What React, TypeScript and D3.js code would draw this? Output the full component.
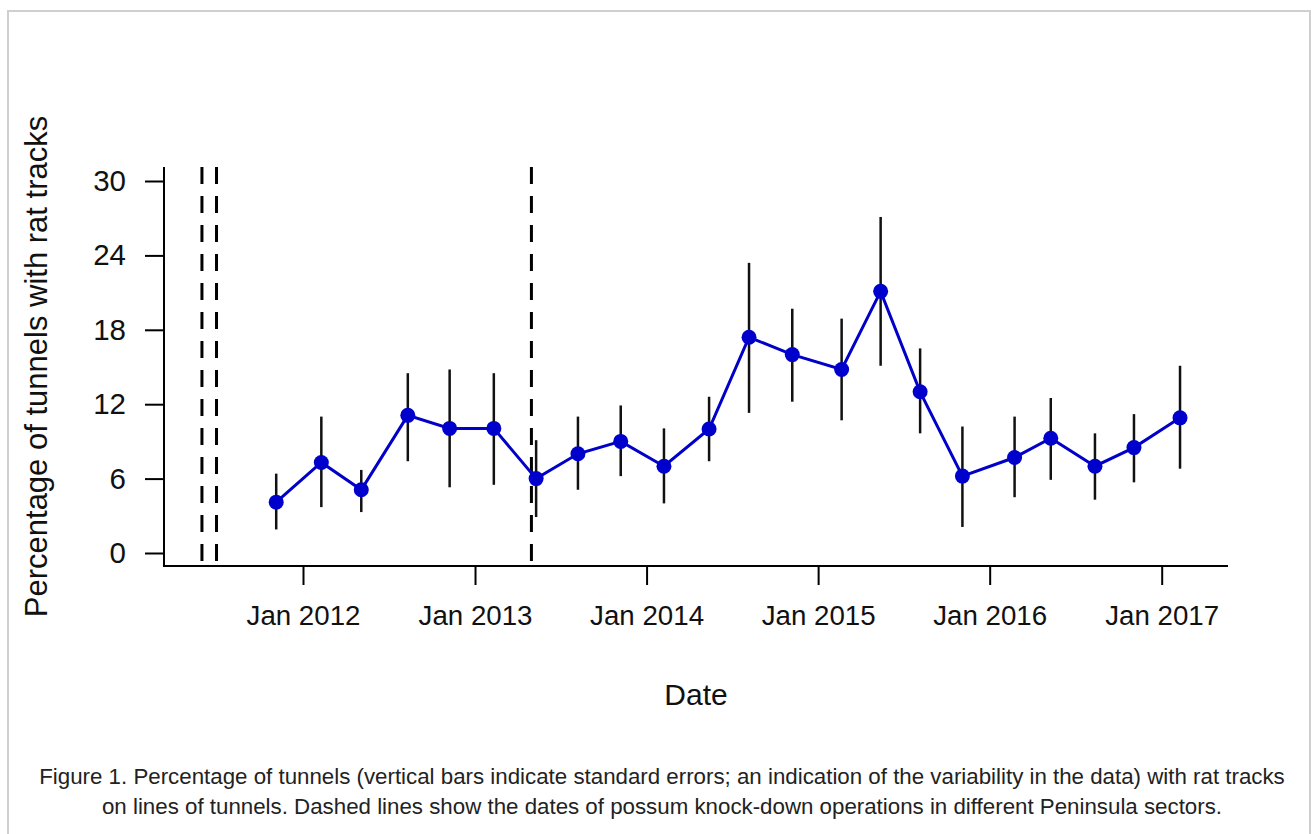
import React, { useEffect, useRef } from 'react';
import * as d3 from 'd3';

// survey dates (quarterly), mean % of tunnels with rat tracks and SE limits
const surveyDates = [
  '2011-11-05', '2012-02-09', '2012-05-04', '2012-08-11', '2012-11-08',
  '2013-02-10', '2013-05-11', '2013-08-08', '2013-11-07', '2014-02-07',
  '2014-05-14', '2014-08-07', '2014-11-07', '2015-02-20', '2015-05-14',
  '2015-08-06', '2015-11-04', '2016-02-23', '2016-05-10', '2016-08-12',
  '2016-11-03', '2017-02-09',
];
const meanTracks = [
  4.1, 7.3, 5.1, 11.1, 10.05, 10.05, 6.0, 8.0, 9.0, 7.0, 10.0,
  17.4, 16.0, 14.8, 21.1, 13.0, 6.2, 7.7, 9.25, 7.0, 8.5, 10.9,
];
const lowerSE = [
  1.9, 3.7, 3.3, 7.4, 5.3, 5.5, 2.9, 5.1, 6.2, 4.0, 7.4,
  11.3, 12.2, 10.7, 15.1, 9.65, 2.1, 4.5, 5.9, 4.3, 5.7, 6.8,
];
const upperSE = [
  6.4, 11.0, 6.7, 14.5, 14.8, 14.5, 9.1, 11.0, 11.9, 10.05, 12.6,
  23.4, 19.7, 18.9, 27.1, 16.5, 10.2, 11.0, 12.5, 9.65, 11.2, 15.1,
];

// possum knock-down operations
const knockDownDates = ['2011-05-31', '2011-07-01', '2013-05-01'];

const xTickDates = ['2012-01-01', '2013-01-01', '2014-01-01', '2015-01-01', '2016-01-01', '2017-01-01'];
const yTicks = [0, 6, 12, 18, 24, 30];

const captionLines = [
  'Figure 1. Percentage of tunnels (vertical bars indicate standard errors; an indication of the variability in the data) with rat tracks',
  'on lines of tunnels. Dashed lines show the dates of possum knock-down operations in different Peninsula sectors.',
];

const FONT = '"Liberation Sans", Arial, Helvetica, sans-serif';

export default function App() {
  const svgRef = useRef<SVGSVGElement>(null);

  useEffect(() => {
    const svg = d3.select(svgRef.current);
    svg.selectAll('*').remove();

    const W = 1311;
    const H = 834;
    const box = { left: 164, right: 1228, top: 167, bottom: 566 };

    const parse = d3.timeParse('%Y-%m-%d');
    const data = surveyDates.map((d, i) => ({
      date: parse(d) as Date,
      mean: meanTracks[i],
      lo: lowerSE[i],
      hi: upperSE[i],
    }));

    const xScale = d3
      .scaleTime()
      .domain([parse('2012-01-01') as Date, parse('2017-01-01') as Date])
      .range([303, 1161.7]);

    const yScale = d3.scaleLinear().domain([0, 30]).range([553, 181]);

    svg.attr('width', W).attr('height', H);

    // рамка
    svg.append('rect')
      .attr('x', 8)
      .attr('y', 11)
      .attr('width', 1302)
      .attr('height', H)
      .attr('fill', 'white')
      .attr('stroke', '#cfcfcf')
      .attr('stroke-width', 2);

    // dashed knock-down lines
    svg.append('g')
      .selectAll('line')
      .data(knockDownDates)
      .enter()
      .append('line')
      .attr('x1', d => xScale(parse(d) as Date))
      .attr('x2', d => xScale(parse(d) as Date))
      .attr('y1', box.top)
      .attr('y2', box.bottom)
      .attr('stroke', '#000')
      .attr('stroke-width', 3)
      .attr('stroke-dasharray', '17 12');

    // L-shaped box
    svg.append('path')
      .attr('d', `M${box.left},${box.top}V${box.bottom}H${box.right}`)
      .attr('fill', 'none')
      .attr('stroke', '#000')
      .attr('stroke-width', 2);

    // Оси
    const yAxis = svg.append('g')
      .attr('transform', `translate(${box.left},0)`)
      .call(d3.axisLeft(yScale).tickValues(yTicks).tickSize(19).tickPadding(19));
    yAxis.select('.domain').remove();
    yAxis.selectAll('line').attr('stroke', '#000').attr('stroke-width', 2);
    yAxis.selectAll('text')
      .attr('fill', '#111')
      .style('font-family', FONT)
      .style('font-size', '29.5px');

    const xAxis = svg.append('g')
      .attr('transform', `translate(0,${box.bottom})`)
      .call(
        d3.axisBottom(xScale)
          .tickValues(xTickDates.map(d => parse(d) as Date))
          .tickSize(19)
          .tickFormat(d => d3.timeFormat('Jan %Y')(d as Date))
          .tickPadding(20)
      );
    xAxis.select('.domain').remove();
    xAxis.selectAll('line').attr('stroke', '#000').attr('stroke-width', 2);
    xAxis.selectAll('text')
      .attr('fill', '#111')
      .style('font-family', FONT)
      .style('font-size', '27.7px');

    // error bars
    svg.append('g')
      .selectAll('line')
      .data(data)
      .enter()
      .append('line')
      .attr('x1', d => xScale(d.date))
      .attr('x2', d => xScale(d.date))
      .attr('y1', d => yScale(d.lo))
      .attr('y2', d => yScale(d.hi))
      .attr('stroke', '#111')
      .attr('stroke-width', 2.5);

    const line = d3
      .line<typeof data[0]>()
      .x(d => xScale(d.date))
      .y(d => yScale(d.mean));

    svg.append('path')
      .datum(data)
      .attr('d', line)
      .attr('fill', 'none')
      .attr('stroke', '#0000c8')
      .attr('stroke-width', 3);

    svg.append('g')
      .selectAll('circle')
      .data(data)
      .enter()
      .append('circle')
      .attr('cx', d => xScale(d.date))
      .attr('cy', d => yScale(d.mean))
      .attr('r', 7.5)
      .attr('fill', '#0000cc');

    // Подписи осей
    svg.append('text')
      .attr('transform', `translate(47,${(box.top + box.bottom) / 2}) rotate(-90)`)
      .attr('text-anchor', 'middle')
      .style('font-family', FONT)
      .style('font-size', '31px')
      .attr('fill', '#111')
      .text('Percentage of tunnels with rat tracks');

    svg.append('text')
      .attr('x', (box.left + box.right) / 2)
      .attr('y', 705)
      .attr('text-anchor', 'middle')
      .style('font-family', FONT)
      .style('font-size', '30px')
      .attr('fill', '#111')
      .text('Date');

    // caption
    svg.append('g')
      .selectAll('text')
      .data(captionLines)
      .enter()
      .append('text')
      .attr('x', 662)
      .attr('y', (_, i) => 784 + i * 30)
      .attr('text-anchor', 'middle')
      .style('font-family', FONT)
      .style('font-size', '22.3px')
      .attr('fill', '#222')
      .text(d => d);
  }, []);

  return (
    <div style={{ position: 'absolute', left: 0, top: 0, width: 1311, height: 834, overflow: 'hidden', background: 'white' }}>
      <svg ref={svgRef} style={{ display: 'block' }}></svg>
    </div>
  );
}
